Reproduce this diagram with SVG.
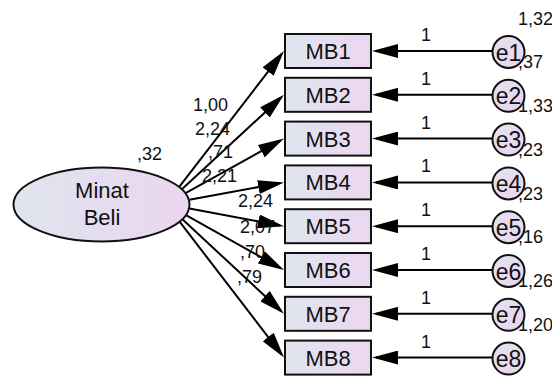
<svg xmlns="http://www.w3.org/2000/svg" width="552" height="377" viewBox="0 0 552 377">
  <defs>
    <linearGradient id="gBox" x1="0" y1="0" x2="1" y2="0">
      <stop offset="0" stop-color="#dfe5ee"/>
      <stop offset="1" stop-color="#ecd6f1"/>
    </linearGradient>
    <linearGradient id="gEll" x1="0" y1="0" x2="1" y2="0">
      <stop offset="0" stop-color="#dfe5ee"/>
      <stop offset="1" stop-color="#ebd5f0"/>
    </linearGradient>
    <linearGradient id="gErr" x1="0" y1="0" x2="1" y2="1">
      <stop offset="0" stop-color="#e2e2ef"/>
      <stop offset="1" stop-color="#ecd4ef"/>
    </linearGradient>
    <marker id="ah" markerUnits="userSpaceOnUse" markerWidth="26" markerHeight="14" refX="22" refY="7" orient="auto">
      <path d="M0,0 L26,7 L0,14 z" fill="#000"/>
    </marker>
    <style>
      .obs { fill: url(#gBox); stroke: #111; stroke-width: 2; }
      .lat { fill: url(#gEll); stroke: #111; stroke-width: 2; }
      .err { fill: url(#gErr); stroke: #111; stroke-width: 2; }
      .edge { stroke: #000; stroke-width: 2; fill: none; marker-end: url(#ah); }
      .node { font-family: "Liberation Sans", Arial, sans-serif; font-size: 22px; fill: #111; text-anchor: middle; }
      .enode { font-family: "Liberation Sans", Arial, sans-serif; font-size: 23px; fill: #111; text-anchor: middle; }
      .num { font-family: "Liberation Sans", Arial, sans-serif; font-size: 18px; fill: #111; }
      .one { font-family: "Liberation Sans", Arial, sans-serif; font-size: 18px; fill: #111; text-anchor: middle; }
    </style>
  </defs>

  <!-- variances of the error terms (drawn first, circles sit over them) -->
  <g id="variances">
    <text class="num" x="518" y="25">1,32</text>
    <text class="num" x="518" y="68">,37</text>
    <text class="num" x="518" y="112">1,33</text>
    <text class="num" x="518" y="156">,23</text>
    <text class="num" x="518" y="200">,23</text>
    <text class="num" x="518" y="243">,16</text>
    <text class="num" x="518" y="287">1,26</text>
    <text class="num" x="518" y="331">1,20</text>
  </g>

  <!-- paths -->
  <g id="connectors">
    <line class="edge" x1="179.6" y1="186.4" x2="281.56" y2="54.17"/>
    <line class="edge" x1="182.4" y1="188.8" x2="281.06" y2="97.52"/>
    <line class="edge" x1="186.0" y1="192.9" x2="280.5" y2="140.54"/>
    <line class="edge" x1="189.4" y1="199.7" x2="280.07" y2="183.12"/>
    <line class="edge" x1="189.4" y1="208.4" x2="280.07" y2="225.46"/>
    <line class="edge" x1="186.0" y1="215.2" x2="280.51" y2="268.05"/>
    <line class="edge" x1="182.4" y1="219.2" x2="281.07" y2="311.07"/>
    <line class="edge" x1="179.6" y1="221.7" x2="281.56" y2="354.43"/>

    <line class="edge" x1="492" y1="51" x2="376" y2="51"/>
    <line class="edge" x1="492" y1="94.8" x2="376" y2="94.8"/>
    <line class="edge" x1="492" y1="138.6" x2="376" y2="138.6"/>
    <line class="edge" x1="492" y1="182.4" x2="376" y2="182.4"/>
    <line class="edge" x1="492" y1="226.2" x2="376" y2="226.2"/>
    <line class="edge" x1="492" y1="270" x2="376" y2="270"/>
    <line class="edge" x1="492" y1="313.8" x2="376" y2="313.8"/>
    <line class="edge" x1="492" y1="357.6" x2="376" y2="357.6"/>
  </g>

  <!-- loadings -->
  <g id="loadings">
    <text class="num" x="193" y="111">1,00</text>
    <text class="num" x="195" y="135">2,24</text>
    <text class="num" x="208" y="158">,71</text>
    <text class="num" x="202" y="182">2,21</text>
    <text class="num" x="238" y="207">2,24</text>
    <text class="num" x="240" y="233">2,07</text>
    <text class="num" x="240" y="258">,70</text>
    <text class="num" x="237" y="283">,79</text>
    <text class="one" x="426" y="41">1</text>
    <text class="one" x="426" y="85">1</text>
    <text class="one" x="426" y="129">1</text>
    <text class="one" x="426" y="172">1</text>
    <text class="one" x="426" y="216">1</text>
    <text class="one" x="426" y="260">1</text>
    <text class="one" x="426" y="304">1</text>
    <text class="one" x="426" y="348">1</text>
  </g>

  <!-- latent factor -->
  <g id="MinatBeli">
    <ellipse class="lat" cx="101.5" cy="204.5" rx="88" ry="37"/>
    <text class="node" x="102" y="198">Minat</text>
    <text class="node" x="102" y="225">Beli</text>
    <text class="num" x="137" y="160">,32</text>
  </g>

  <!-- indicators -->
  <g id="MB1"><rect class="obs" x="285" y="34" width="86" height="34"/><text class="node" x="328" y="59">MB1</text></g>
  <g id="MB2"><rect class="obs" x="285" y="77.8" width="86" height="34"/><text class="node" x="328" y="102.8">MB2</text></g>
  <g id="MB3"><rect class="obs" x="285" y="121.6" width="86" height="34"/><text class="node" x="328" y="146.6">MB3</text></g>
  <g id="MB4"><rect class="obs" x="285" y="165.4" width="86" height="34"/><text class="node" x="328" y="190.4">MB4</text></g>
  <g id="MB5"><rect class="obs" x="285" y="209.2" width="86" height="34"/><text class="node" x="328" y="234.2">MB5</text></g>
  <g id="MB6"><rect class="obs" x="285" y="253" width="86" height="34"/><text class="node" x="328" y="278">MB6</text></g>
  <g id="MB7"><rect class="obs" x="285" y="296.8" width="86" height="34"/><text class="node" x="328" y="321.8">MB7</text></g>
  <g id="MB8"><rect class="obs" x="285" y="340.6" width="86" height="34"/><text class="node" x="328" y="365.6">MB8</text></g>

  <!-- error terms -->
  <g id="e1"><circle class="err" cx="508.5" cy="52" r="16"/><text class="enode" x="508.5" y="60.5">e1</text></g>
  <g id="e2"><circle class="err" cx="508.5" cy="95.8" r="16"/><text class="enode" x="508.5" y="104.3">e2</text></g>
  <g id="e3"><circle class="err" cx="508.5" cy="139.6" r="16"/><text class="enode" x="508.5" y="148.1">e3</text></g>
  <g id="e4"><circle class="err" cx="508.5" cy="183.4" r="16"/><text class="enode" x="508.5" y="191.9">e4</text></g>
  <g id="e5"><circle class="err" cx="508.5" cy="227.2" r="16"/><text class="enode" x="508.5" y="235.7">e5</text></g>
  <g id="e6"><circle class="err" cx="508.5" cy="271" r="16"/><text class="enode" x="508.5" y="279.5">e6</text></g>
  <g id="e7"><circle class="err" cx="508.5" cy="314.8" r="16"/><text class="enode" x="508.5" y="323.3">e7</text></g>
  <g id="e8"><circle class="err" cx="508.5" cy="358.6" r="16"/><text class="enode" x="508.5" y="367.1">e8</text></g>
</svg>
